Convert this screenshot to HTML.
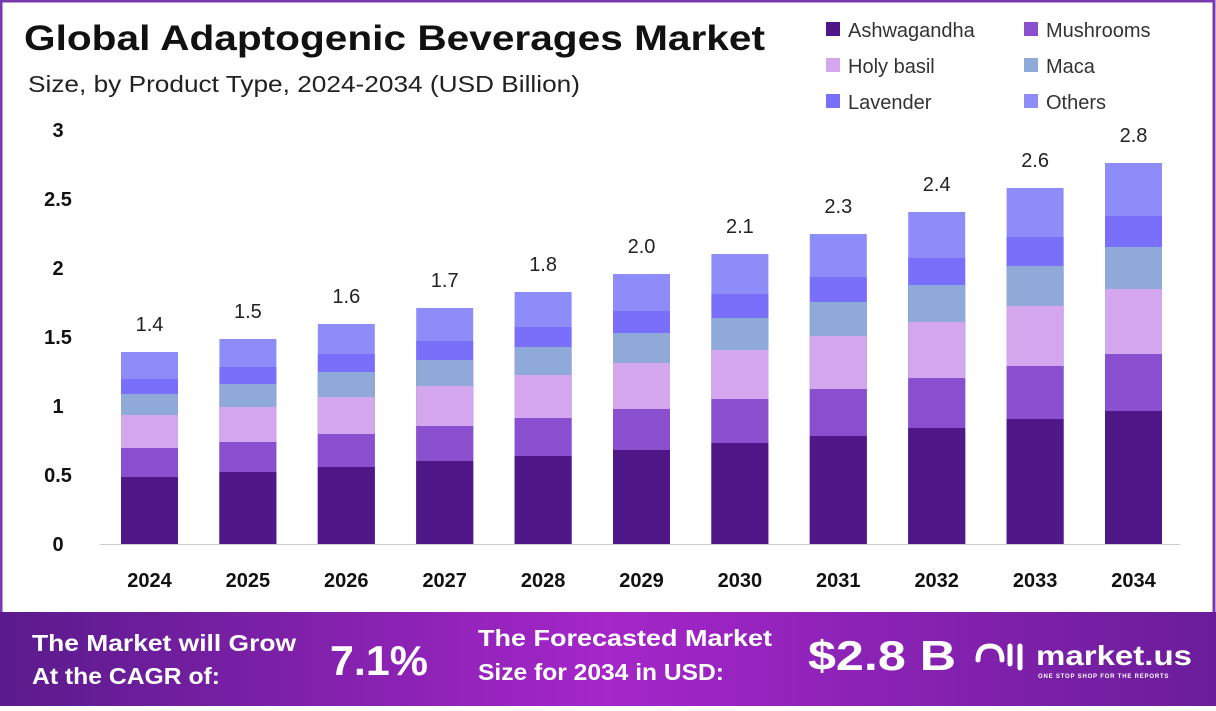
<!DOCTYPE html>
<html><head><meta charset="utf-8"><style>
html,body{margin:0;padding:0;}
body{width:1216px;height:706px;overflow:hidden;font-family:"Liberation Sans",sans-serif;}
</style></head><body>
<svg width="1216" height="706" viewBox="0 0 1216 706" xmlns="http://www.w3.org/2000/svg" font-family="Liberation Sans, sans-serif">
<defs>
<linearGradient id="ft" x1="0" y1="0" x2="1" y2="0">
<stop offset="0" stop-color="#5a1b8c"/><stop offset="0.5" stop-color="#a526c9"/><stop offset="1" stop-color="#6a1d9a"/>
</linearGradient>
<g id="c"></g>
</defs>
<rect x="0" y="0" width="1216" height="706" fill="#fff"/>
<rect x="1" y="1" width="1213" height="704" fill="none" stroke="#7a38ae" stroke-width="3"/>
<text x="24" y="50" font-size="35" font-weight="bold" fill="#111" textLength="741" lengthAdjust="spacingAndGlyphs">Global Adaptogenic Beverages Market</text>
<text x="28" y="92" font-size="23" fill="#222" textLength="552" lengthAdjust="spacingAndGlyphs">Size, by Product Type, 2024-2034 (USD Billion)</text>
<g font-size="20" fill="#333">
<rect x="826" y="22" width="14" height="14" fill="#4f1787"/><text x="848" y="37">Ashwagandha</text>
<rect x="1024" y="22" width="14" height="14" fill="#8a4fcf"/><text x="1046" y="37">Mushrooms</text>
<rect x="826" y="58" width="14" height="14" fill="#d4a6ee"/><text x="848" y="73">Holy basil</text>
<rect x="1024" y="58" width="14" height="14" fill="#8faad8"/><text x="1046" y="73">Maca</text>
<rect x="826" y="94" width="14" height="14" fill="#7a6ffb"/><text x="848" y="109">Lavender</text>
<rect x="1024" y="94" width="14" height="14" fill="#8e8cf9"/><text x="1046" y="109">Others</text>
</g>
<g font-size="20" font-weight="bold" fill="#111" text-anchor="middle">
<text x="58" y="551">0</text><text x="58" y="482">0.5</text><text x="58" y="413">1</text>
<text x="58" y="344">1.5</text><text x="58" y="275">2</text><text x="58" y="206">2.5</text><text x="58" y="137">3</text>
</g>
<line x1="100" y1="544.5" x2="1180" y2="544.5" stroke="#ccc" stroke-width="1"/>

<g>
<g transform="translate(121,0)"><rect y="352" width="57" height="192" fill="#8e8cf9"/><rect y="379" width="57" height="165" fill="#7a6ffb"/><rect y="394" width="57" height="150" fill="#8faad8"/><rect y="415" width="57" height="129" fill="#d4a6ee"/><rect y="448" width="57" height="96" fill="#8a4fcf"/><rect y="477" width="57" height="67" fill="#4f1787"/></g>
<g transform="translate(219.4,0)"><rect y="339" width="57" height="205" fill="#8e8cf9"/><rect y="367" width="57" height="177" fill="#7a6ffb"/><rect y="384" width="57" height="160" fill="#8faad8"/><rect y="407" width="57" height="137" fill="#d4a6ee"/><rect y="442" width="57" height="102" fill="#8a4fcf"/><rect y="472" width="57" height="72" fill="#4f1787"/></g>
<g transform="translate(317.8,0)"><rect y="324" width="57" height="220" fill="#8e8cf9"/><rect y="354" width="57" height="190" fill="#7a6ffb"/><rect y="372" width="57" height="172" fill="#8faad8"/><rect y="397" width="57" height="147" fill="#d4a6ee"/><rect y="434" width="57" height="110" fill="#8a4fcf"/><rect y="467" width="57" height="77" fill="#4f1787"/></g>
<g transform="translate(416.2,0)"><rect y="308" width="57" height="236" fill="#8e8cf9"/><rect y="341" width="57" height="203" fill="#7a6ffb"/><rect y="360" width="57" height="184" fill="#8faad8"/><rect y="386" width="57" height="158" fill="#d4a6ee"/><rect y="426" width="57" height="118" fill="#8a4fcf"/><rect y="461" width="57" height="83" fill="#4f1787"/></g>
<g transform="translate(514.6,0)"><rect y="292" width="57" height="252" fill="#8e8cf9"/><rect y="327" width="57" height="217" fill="#7a6ffb"/><rect y="347" width="57" height="197" fill="#8faad8"/><rect y="375" width="57" height="169" fill="#d4a6ee"/><rect y="418" width="57" height="126" fill="#8a4fcf"/><rect y="456" width="57" height="88" fill="#4f1787"/></g>
<g transform="translate(613,0)"><rect y="274" width="57" height="270" fill="#8e8cf9"/><rect y="311" width="57" height="233" fill="#7a6ffb"/><rect y="333" width="57" height="211" fill="#8faad8"/><rect y="363" width="57" height="181" fill="#d4a6ee"/><rect y="409" width="57" height="135" fill="#8a4fcf"/><rect y="450" width="57" height="94" fill="#4f1787"/></g>
<g transform="translate(711.4,0)"><rect y="254" width="57" height="290" fill="#8e8cf9"/><rect y="294" width="57" height="250" fill="#7a6ffb"/><rect y="318" width="57" height="226" fill="#8faad8"/><rect y="350" width="57" height="194" fill="#d4a6ee"/><rect y="399" width="57" height="145" fill="#8a4fcf"/><rect y="443" width="57" height="101" fill="#4f1787"/></g>
<g transform="translate(809.8,0)"><rect y="234" width="57" height="310" fill="#8e8cf9"/><rect y="277" width="57" height="267" fill="#7a6ffb"/><rect y="302" width="57" height="242" fill="#8faad8"/><rect y="336" width="57" height="208" fill="#d4a6ee"/><rect y="389" width="57" height="155" fill="#8a4fcf"/><rect y="436" width="57" height="108" fill="#4f1787"/></g>
<g transform="translate(908.2,0)"><rect y="212" width="57" height="332" fill="#8e8cf9"/><rect y="258" width="57" height="286" fill="#7a6ffb"/><rect y="285" width="57" height="259" fill="#8faad8"/><rect y="322" width="57" height="222" fill="#d4a6ee"/><rect y="378" width="57" height="166" fill="#8a4fcf"/><rect y="428" width="57" height="116" fill="#4f1787"/></g>
<g transform="translate(1006.6,0)"><rect y="188" width="57" height="356" fill="#8e8cf9"/><rect y="237" width="57" height="307" fill="#7a6ffb"/><rect y="266" width="57" height="278" fill="#8faad8"/><rect y="306" width="57" height="238" fill="#d4a6ee"/><rect y="366" width="57" height="178" fill="#8a4fcf"/><rect y="419" width="57" height="125" fill="#4f1787"/></g>
<g transform="translate(1105,0)"><rect y="163" width="57" height="381" fill="#8e8cf9"/><rect y="216" width="57" height="328" fill="#7a6ffb"/><rect y="247" width="57" height="297" fill="#8faad8"/><rect y="289" width="57" height="255" fill="#d4a6ee"/><rect y="354" width="57" height="190" fill="#8a4fcf"/><rect y="411" width="57" height="133" fill="#4f1787"/></g>
</g>
<g font-size="20" fill="#222" text-anchor="middle">
<text x="149.5" y="331">1.4</text><text x="247.9" y="318">1.5</text><text x="346.3" y="303">1.6</text><text x="444.7" y="287">1.7</text><text x="543.1" y="271">1.8</text><text x="641.5" y="253">2.0</text><text x="739.9" y="233">2.1</text><text x="838.3" y="213">2.3</text><text x="936.7" y="191">2.4</text><text x="1035.1" y="167">2.6</text><text x="1133.5" y="142">2.8</text>
</g>
<g font-size="20" font-weight="bold" fill="#111" text-anchor="middle">
<text x="149.5" y="587">2024</text><text x="247.9" y="587">2025</text><text x="346.3" y="587">2026</text><text x="444.7" y="587">2027</text><text x="543.1" y="587">2028</text><text x="641.5" y="587">2029</text><text x="739.9" y="587">2030</text><text x="838.3" y="587">2031</text><text x="936.7" y="587">2032</text><text x="1035.1" y="587">2033</text><text x="1133.5" y="587">2034</text>
</g>
<rect x="0" y="612" width="1216" height="94" fill="url(#ft)"/>
<g fill="#fff" font-weight="bold">
<text x="32" y="651" font-size="23" textLength="264" lengthAdjust="spacingAndGlyphs">The Market will Grow</text>
<text x="32" y="684" font-size="23" textLength="188" lengthAdjust="spacingAndGlyphs">At the CAGR of:</text>
<text x="330" y="675" font-size="42" textLength="98" lengthAdjust="spacingAndGlyphs">7.1%</text>
<text x="478" y="646" font-size="23" textLength="294" lengthAdjust="spacingAndGlyphs">The Forecasted Market</text>
<text x="478" y="680" font-size="23" textLength="246" lengthAdjust="spacingAndGlyphs">Size for 2034 in USD:</text>
<text x="808" y="670" font-size="42" textLength="148" lengthAdjust="spacingAndGlyphs">$2.8 B</text>
<text x="1036" y="665" font-size="28" textLength="156" lengthAdjust="spacingAndGlyphs">market.us</text>
<text x="1038" y="678" font-size="6" letter-spacing="0.8">ONE STOP SHOP FOR THE REPORTS</text>
<path d="M978 660 q0 -14 12 -14 q12 0 12 14 M1010 646 v18 M1020 646 v22" stroke="#fff" stroke-width="5" fill="none" stroke-linecap="round"/>
</g>
</svg>
</body></html>
